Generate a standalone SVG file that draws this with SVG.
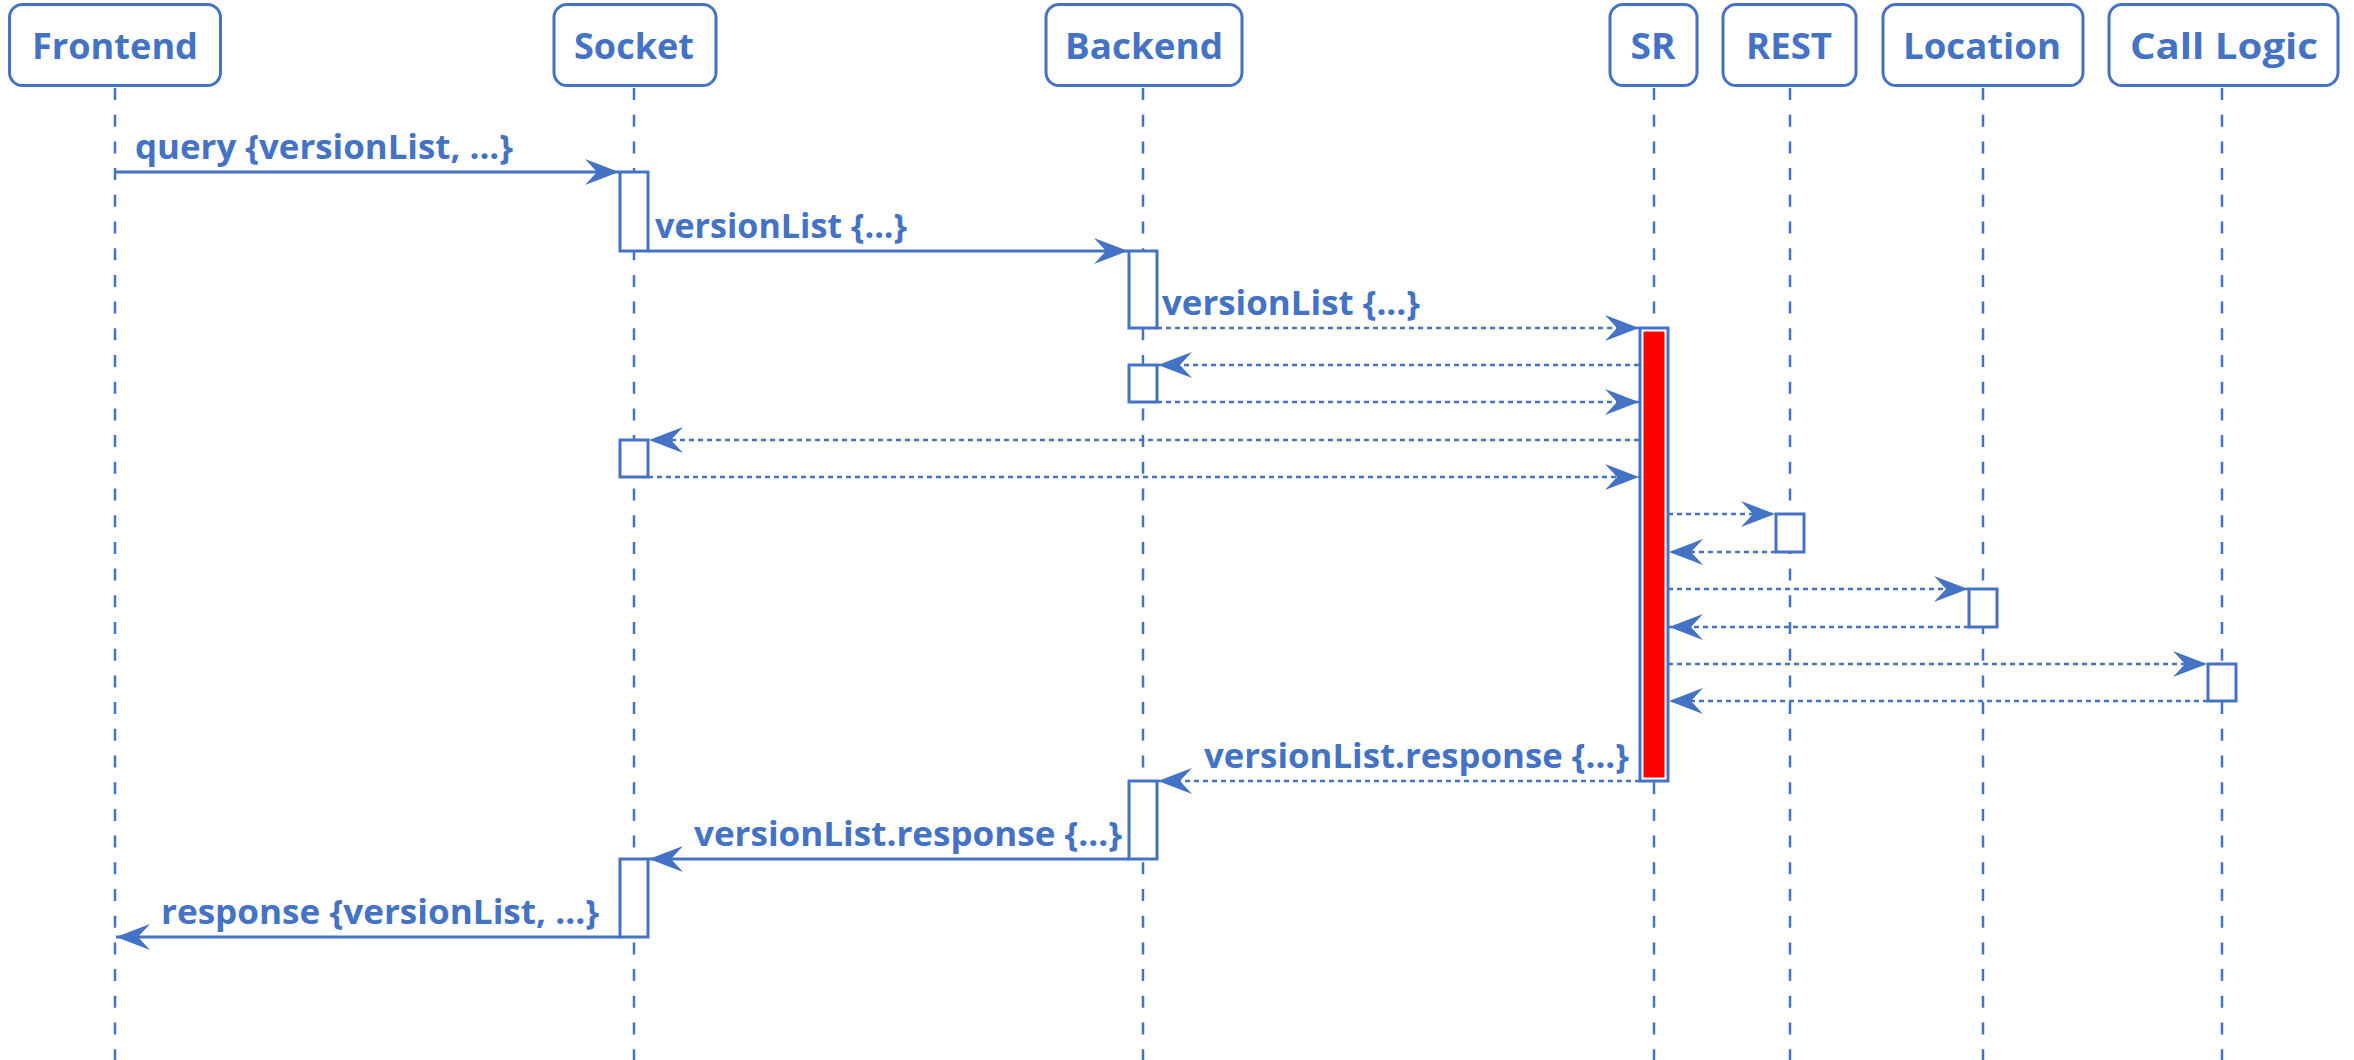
<svg xmlns="http://www.w3.org/2000/svg" width="2354" height="1060" viewBox="0 0 2354 1060">
<defs>
<style>
.box{fill:#fff;stroke:#4472C4;stroke-width:3}
.life{stroke:#4472C4;stroke-width:2.5;stroke-dasharray:12 14.7;fill:none}
.act{fill:#fff;stroke:#4472C4;stroke-width:3}
.msg{stroke:#4472C4;stroke-width:3;fill:none;marker-end:url(#ah)}
.dot{stroke-dasharray:5 4;stroke-width:2.6}
.lbl{font-family:"Open Sans","DejaVu Sans",sans-serif;font-weight:bold;font-size:36px;fill:#4472C4;text-anchor:middle}
.mlbl{font-family:"Open Sans","DejaVu Sans",sans-serif;font-weight:bold;font-size:34px;fill:#4472C4}
</style>
<marker id="ah" viewBox="-36 -15 38 30" markerWidth="38" markerHeight="30" refX="0" refY="0" orient="auto" markerUnits="userSpaceOnUse">
<path d="M0,0 L-34,-13 L-22,0 L-34,13 Z" fill="#4472C4"/>
</marker>
</defs>
<rect width="2354" height="1060" fill="#fff"/>

<g id="lifelines">
<line class="life" x1="115" y1="88" x2="115" y2="1060"/>
<line class="life" x1="634" y1="88" x2="634" y2="1060"/>
<line class="life" x1="1143" y1="88" x2="1143" y2="1060"/>
<line class="life" x1="1654" y1="88" x2="1654" y2="1060"/>
<line class="life" x1="1790" y1="88" x2="1790" y2="1060"/>
<line class="life" x1="1983" y1="88" x2="1983" y2="1060"/>
<line class="life" x1="2222" y1="88" x2="2222" y2="1060"/>
</g>

<g id="Frontend"><rect class="box" x="9.5" y="4.5" width="211" height="81" rx="13"/><text class="lbl" x="115" y="59" textLength="166" lengthAdjust="spacingAndGlyphs">Frontend</text></g>
<g id="Socket"><rect class="box" x="554" y="4.5" width="162" height="81" rx="13"/><text class="lbl" x="634" y="59" textLength="120" lengthAdjust="spacingAndGlyphs">Socket</text></g>
<g id="Backend"><rect class="box" x="1046" y="4.5" width="196" height="81" rx="13"/><text class="lbl" x="1144" y="59" textLength="158" lengthAdjust="spacingAndGlyphs">Backend</text></g>
<g id="SR"><rect class="box" x="1610" y="4.5" width="87" height="81" rx="13"/><text class="lbl" x="1653" y="59" textLength="45" lengthAdjust="spacingAndGlyphs">SR</text></g>
<g id="REST"><rect class="box" x="1723" y="4.5" width="133" height="81" rx="13"/><text class="lbl" x="1789" y="59" textLength="86" lengthAdjust="spacingAndGlyphs">REST</text></g>
<g id="Location"><rect class="box" x="1883" y="4.5" width="200" height="81" rx="13"/><text class="lbl" x="1982" y="59" textLength="158" lengthAdjust="spacingAndGlyphs">Location</text></g>
<g id="CallLogic"><rect class="box" x="2109" y="4.5" width="229" height="81" rx="13"/><text class="lbl" x="2224" y="59" textLength="188" lengthAdjust="spacingAndGlyphs">Call Logic</text></g>

<g id="activations">
<rect class="act" x="620" y="172" width="28" height="79"/>
<rect class="act" x="1129" y="251" width="28" height="77"/>
<rect class="act" x="1129" y="365" width="28" height="37"/>
<rect class="act" x="620" y="440" width="28" height="37"/>
<rect class="act" x="1776" y="514" width="28" height="38"/>
<rect class="act" x="1969" y="589" width="28" height="38"/>
<rect class="act" x="2208" y="664" width="28" height="37"/>
<rect class="act" x="1129" y="781" width="28" height="78"/>
<rect class="act" x="620" y="859" width="28" height="78"/>
</g>

<g id="SR-activation">
<rect class="act" x="1640" y="328" width="28" height="453"/>
<rect x="1643.5" y="331.5" width="21" height="446" fill="#FF0000"/>
</g>

<g id="connectors">
<line class="msg" x1="116" y1="172" x2="619" y2="172"/>
<line class="msg" x1="648" y1="251" x2="1128" y2="251"/>
<line class="msg dot" x1="1157" y1="328" x2="1639" y2="328"/>
<line class="msg dot" x1="1639" y1="365" x2="1158" y2="365"/>
<line class="msg dot" x1="1157" y1="402" x2="1639" y2="402"/>
<line class="msg dot" x1="1639" y1="440" x2="649" y2="440"/>
<line class="msg dot" x1="648" y1="477" x2="1639" y2="477"/>
<line class="msg dot" x1="1668" y1="514" x2="1775" y2="514"/>
<line class="msg dot" x1="1776" y1="552" x2="1669" y2="552"/>
<line class="msg dot" x1="1668" y1="589" x2="1968" y2="589"/>
<line class="msg dot" x1="1969" y1="627" x2="1669" y2="627"/>
<line class="msg dot" x1="1668" y1="664" x2="2207" y2="664"/>
<line class="msg dot" x1="2208" y1="701" x2="1669" y2="701"/>
<line class="msg dot" x1="1640" y1="781" x2="1158" y2="781"/>
<line class="msg" x1="1129" y1="859" x2="649" y2="859"/>
<line class="msg" x1="620" y1="937" x2="116" y2="937"/>
</g>

<g id="labels">
<text class="mlbl" x="135" y="159" textLength="378" lengthAdjust="spacingAndGlyphs">query {versionList, ...}</text>
<text class="mlbl" x="655" y="238" textLength="252" lengthAdjust="spacingAndGlyphs">versionList {...}</text>
<text class="mlbl" x="1162" y="315" textLength="258" lengthAdjust="spacingAndGlyphs">versionList {...}</text>
<text class="mlbl" x="1204" y="768" textLength="425" lengthAdjust="spacingAndGlyphs">versionList.response {...}</text>
<text class="mlbl" x="694" y="846" textLength="428" lengthAdjust="spacingAndGlyphs">versionList.response {...}</text>
<text class="mlbl" x="161" y="924" textLength="438" lengthAdjust="spacingAndGlyphs">response {versionList, ...}</text>
</g>
</svg>
